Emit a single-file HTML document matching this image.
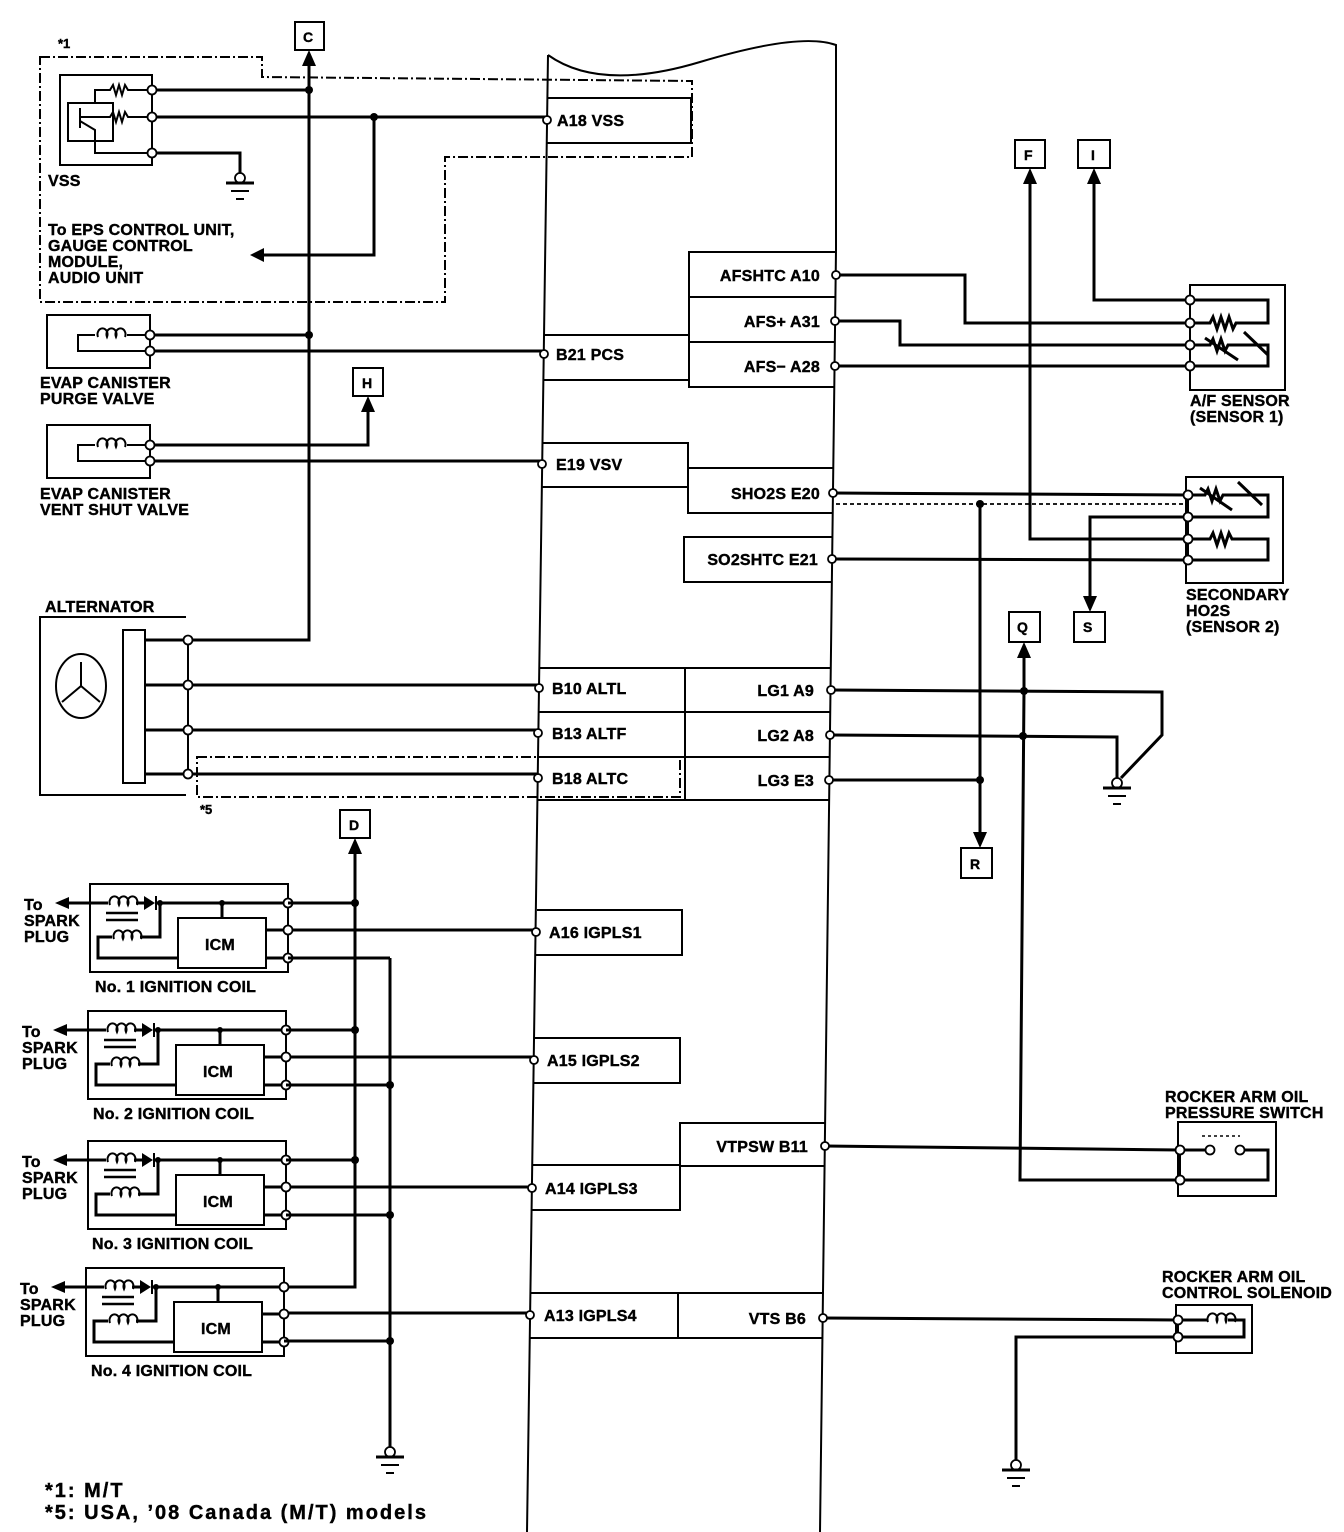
<!DOCTYPE html>
<html><head><meta charset="utf-8"><style>
html,body{margin:0;padding:0;background:#fff}
svg{display:block}
text{font-family:"Liberation Sans",Arial,sans-serif;font-weight:bold;font-size:16px;letter-spacing:0.2px;fill:#000;stroke:#000;stroke-width:0.4}
.s14{font-size:14px;letter-spacing:0}
.s13{font-size:13px;letter-spacing:0}
.fn{font-size:20px;letter-spacing:2px}
.w{stroke:#000;stroke-width:3;fill:none}
.t{stroke:#000;stroke-width:2;fill:none}
.d{stroke:#000;stroke-width:2;fill:none;stroke-dasharray:10 3 2 3}
.p{fill:#fff;stroke:#000;stroke-width:1.8}
.dot{fill:#000}
</style></head><body>
<svg width="1344" height="1532" viewBox="0 0 1344 1532" xmlns="http://www.w3.org/2000/svg">
<defs>
<g id="gnd"><circle cx="0" cy="0" r="5" class="p"/><line x1="-14" y1="5" x2="14" y2="5" stroke="#000" stroke-width="3"/><line x1="-9" y1="13" x2="9" y2="13" stroke="#000" stroke-width="2"/><line x1="-4" y1="21" x2="4" y2="21" stroke="#000" stroke-width="2"/></g>
<path id="coilsym" d="M0,0 a5,6 0 1 1 9,0 a5,6 0 1 1 9,0 a5,6 0 1 1 9,0" class="t" stroke-width="2.4"/>
</defs>

<!-- ECM outline -->
<path d="M548,55 Q600,92 700,62 T836,45 L836,250 L820,1532 M527,1532 L548,55" class="t"/>

<!-- *1 dashed region -->
<text x="58" y="48" class="s13">*1</text>
<path d="M40,57 L262,57 L262,77 L692,81 L692,157 L445,157 L445,302 L40,302 Z" class="d"/>

<!-- C connector -->
<rect x="295" y="22" width="29" height="28" class="t"/><text x="303" y="42" class="s14">C</text>
<polygon points="309,50 302,66 316,66" class="dot"/>
<path d="M309,62 L309,640 L188,640" class="w"/>

<!-- VSS -->
<rect x="60" y="75" width="92" height="90" class="t"/>
<line x1="152" y1="90" x2="152" y2="153" class="t"/>
<rect x="68" y="103" width="45" height="38" class="t"/>
<path d="M95,103 L95,90 L110,90 l3,-5 l3,10 l3,-10 l3,10 l3,-10 l3,5 L152,90" class="t" stroke-width="2.4"/>
<path d="M85,117 L110,117 l3,-5 l3,10 l3,-10 l3,10 l3,-10 l3,5 L152,117" class="t" stroke-width="2.4"/>
<path d="M80,108 L80,128 M80,117 L85,117 M80,121 L95,130 L95,153 L152,153" class="t" stroke-width="2.4"/>
<path d="M152,90 L309,90 M152,117 L547,117 M374,117 L374,255 L262,255" class="w"/>
<polygon points="250,255 264,248 264,262" class="dot"/>
<circle cx="309" cy="90" r="4" class="dot"/><circle cx="374" cy="117" r="4" class="dot"/>
<path d="M152,153 L240,153 L240,175" class="w"/>
<use href="#gnd" x="240" y="178"/>
<circle cx="152" cy="90" r="4.5" class="p"/><circle cx="152" cy="117" r="4.5" class="p"/><circle cx="152" cy="153" r="4.5" class="p"/>
<text x="48" y="186">VSS</text>
<text x="48" y="235">To EPS CONTROL UNIT,</text>
<text x="48" y="251">GAUGE CONTROL</text>
<text x="48" y="267">MODULE,</text>
<text x="48" y="283">AUDIO UNIT</text>

<!-- A18 box -->
<path d="M548,98 L691,98 L691,143 L547,143" class="t"/>
<circle cx="547" cy="120" r="4" class="p"/><text x="557" y="126">A18 VSS</text>

<!-- EVAP purge -->
<rect x="47" y="315" width="103" height="53" class="t"/>
<path d="M150,335 L127,335 M95,335 L78,335 L78,351 L150,351" class="t" stroke-width="2.8"/>
<use href="#coilsym" x="98" y="337"/>
<path d="M150,335 L309,335 M150,351 L544,351" class="w"/>
<circle cx="309" cy="335" r="4" class="dot"/>
<circle cx="150" cy="335" r="4.5" class="p"/><circle cx="150" cy="351" r="4.5" class="p"/>
<text x="40" y="388">EVAP CANISTER</text><text x="40" y="404">PURGE VALVE</text>
<path d="M544,335 L688,335 M543,380 L688,380" class="t"/>
<circle cx="544" cy="354" r="4" class="p"/><text x="556" y="360">B21 PCS</text>

<!-- H -->
<rect x="353" y="368" width="30" height="28" class="t"/><text x="362" y="388" class="s14">H</text>
<polygon points="368,396 361,412 375,412" class="dot"/>
<path d="M150,445 L368,445 L368,408" class="w"/>

<!-- EVAP vent -->
<rect x="47" y="425" width="103" height="53" class="t"/>
<path d="M150,445 L127,445 M95,445 L78,445 L78,461 L150,461" class="t" stroke-width="2.8"/>
<use href="#coilsym" x="98" y="447"/>
<path d="M150,461 L542,461" class="w"/>
<circle cx="150" cy="445" r="4.5" class="p"/><circle cx="150" cy="461" r="4.5" class="p"/>
<text x="40" y="499">EVAP CANISTER</text><text x="40" y="515">VENT SHUT VALVE</text>
<path d="M542,443 L688,443 L688,487 L541,487" class="t"/>
<circle cx="542" cy="464" r="4" class="p"/><text x="556" y="470">E19 VSV</text>

<!-- right AFS boxes -->
<path d="M836,252 L689,252 L689,387 L835,387 M689,297 L836,297 M689,342 L835,342" class="t"/>
<text x="820" y="281" text-anchor="end">AFSHTC A10</text>
<text x="820" y="327" text-anchor="end">AFS+ A31</text>
<text x="820" y="372" text-anchor="end">AFS− A28</text>
<path d="M836,275 L965,275 L965,323 L1190,323 M835,321 L900,321 L900,345 L1190,345 M835,366 L1190,366" class="w"/>
<circle cx="836" cy="275" r="4" class="p"/><circle cx="835" cy="321" r="4" class="p"/><circle cx="835" cy="366" r="4" class="p"/>

<!-- F, I -->
<rect x="1015" y="140" width="30" height="28" class="t"/><text x="1024" y="160" class="s14">F</text>
<rect x="1078" y="140" width="32" height="28" class="t"/><text x="1091" y="160" class="s14">I</text>
<polygon points="1030,168 1023,184 1037,184" class="dot"/>
<polygon points="1094,168 1087,184 1101,184" class="dot"/>
<path d="M1030,180 L1030,539 L1188,539 M1094,180 L1094,300 L1190,300" class="w"/>

<!-- A/F sensor -->
<path d="M1190,285 L1285,285 L1285,390 L1190,390 Z" class="t"/>
<line x1="1190" y1="300" x2="1190" y2="368" class="t"/>
<path d="M1190,300 L1268,300 L1268,323 L1248,323 M1190,323 L1210,323 l3,-6 l4,12 l4,-12 l4,12 l4,-12 l4,12 l3,-6 L1248,323" class="w" stroke-width="2.5"/>
<path d="M1190,345 L1210,345 l3,-6 l4,12 l4,-12 l4,12 l3,-6 L1268,345 L1268,366 L1190,366 M1205,338 L1238,360 M1244,332 L1268,355" class="w" stroke-width="2.2"/>
<circle cx="1190" cy="300" r="4.5" class="p"/><circle cx="1190" cy="323" r="4.5" class="p"/><circle cx="1190" cy="345" r="4.5" class="p"/><circle cx="1190" cy="366" r="4.5" class="p"/>
<text x="1190" y="406">A/F SENSOR</text><text x="1190" y="422">(SENSOR 1)</text>

<!-- SHO2S / SO2SHTC -->
<path d="M834,468 L688,468 L688,513 L833,513" class="t"/>
<text x="820" y="499" text-anchor="end">SHO2S E20</text>
<path d="M833,537 L684,537 L684,582 L832,582" class="t"/>
<text x="818" y="565" text-anchor="end">SO2SHTC E21</text>
<path d="M833,493 L1188,495 M832,559 L1188,560" class="w"/>
<line x1="836" y1="504" x2="1188" y2="504" stroke="#000" stroke-width="1.8" stroke-dasharray="4 3"/>
<circle cx="833" cy="493" r="4" class="p"/><circle cx="832" cy="559" r="4" class="p"/>
<circle cx="980" cy="504" r="4" class="dot"/>
<path d="M980,504 L980,835" class="w"/>
<polygon points="980,848 973,832 987,832" class="dot"/>
<rect x="961" y="848" width="31" height="30" class="t"/><text x="970" y="869" class="s14">R</text>

<!-- secondary HO2S -->
<path d="M1186,477 L1283,477 L1283,583 L1186,583 Z" class="t"/>
<line x1="1188" y1="495" x2="1188" y2="560" class="t"/>
<path d="M1188,495 L1205,495 l3,-6 l4,12 l4,-12 l4,12 l3,-6 L1268,495 L1268,517 L1188,517 M1200,488 L1232,510 M1238,482 L1262,505" class="w" stroke-width="2.2"/>
<path d="M1188,539 L1210,539 l3,-6 l4,12 l4,-12 l4,12 l4,-12 l3,6 L1268,539 L1268,560 L1188,560" class="w" stroke-width="2.5"/>
<path d="M1188,517 L1090,517 L1090,598" class="w"/>
<polygon points="1090,612 1083,596 1097,596" class="dot"/>
<circle cx="1188" cy="495" r="4.5" class="p"/><circle cx="1188" cy="517" r="4.5" class="p"/><circle cx="1188" cy="539" r="4.5" class="p"/><circle cx="1188" cy="560" r="4.5" class="p"/>
<text x="1186" y="600">SECONDARY</text><text x="1186" y="616">HO2S</text><text x="1186" y="632">(SENSOR 2)</text>
<rect x="1009" y="612" width="31" height="30" class="t"/><text x="1017" y="632" class="s14">Q</text>
<rect x="1074" y="612" width="31" height="30" class="t"/><text x="1083" y="632" class="s14">S</text>

<!-- Alternator -->
<text x="45" y="612">ALTERNATOR</text>
<path d="M186,617 L40,617 L40,795 L186,795" class="t"/>
<line x1="188" y1="640" x2="188" y2="774" class="t"/>
<rect x="123" y="630" width="22" height="153" class="t"/>
<ellipse cx="81" cy="686" rx="25" ry="32" class="t"/>
<path d="M81,662 L81,686 L62,702 M81,686 L100,702" class="t"/>
<path d="M145,640 L188,640 M145,685 L539,685 M145,730 L538,730 M145,774 L538,774" class="w"/>
<circle cx="188" cy="640" r="4.5" class="p"/><circle cx="188" cy="685" r="4.5" class="p"/><circle cx="188" cy="730" r="4.5" class="p"/><circle cx="188" cy="774" r="4.5" class="p"/>
<rect x="197" y="757" width="483" height="40" class="d"/>
<text x="200" y="814" class="s13">*5</text>
<path d="M540,668 L830,668 M539,712 L830,712 M538,757 L829,757 M538,800 L829,800 M685,668 L685,800" class="t"/>
<circle cx="539" cy="688" r="4" class="p"/><circle cx="538" cy="733" r="4" class="p"/><circle cx="538" cy="778" r="4" class="p"/>
<text x="552" y="694">B10 ALTL</text><text x="552" y="739">B13 ALTF</text><text x="552" y="784">B18 ALTC</text>
<text x="814" y="696" text-anchor="end">LG1 A9</text><text x="814" y="741" text-anchor="end">LG2 A8</text><text x="814" y="786" text-anchor="end">LG3 E3</text>
<path d="M831,690 L1162,692 L1162,735 L1121,778 M830,735 L1117,737 L1117,778 M829,780 L980,780" class="w"/>
<circle cx="831" cy="690" r="4" class="p"/><circle cx="830" cy="735" r="4" class="p"/><circle cx="829" cy="780" r="4" class="p"/>
<circle cx="980" cy="780" r="4" class="dot"/>
<use href="#gnd" x="1117" y="783"/>
<!-- Q line -->
<polygon points="1024,642 1017,658 1031,658" class="dot"/>
<path d="M1024,654 L1024,690 L1020,1180 L1180,1180" class="w"/>
<circle cx="1024" cy="691" r="4" class="dot"/><circle cx="1023" cy="736" r="4" class="dot"/>

<!-- D -->
<rect x="340" y="810" width="30" height="28" class="t"/><text x="349" y="830" class="s14">D</text>
<polygon points="355,838 348,854 362,854" class="dot"/>
<path d="M355,850 L355,1287 L284,1287" class="w"/>
<path d="M390,958 L390,1447" class="w"/>
<use href="#gnd" x="390" y="1452"/>

<!-- coils -->
<g id="coil1">
<rect x="90" y="884" width="198" height="88" class="t"/>
<line x1="288" y1="903" x2="288" y2="958" class="t"/>
<polygon points="55,903 69,897 69,909" class="dot"/>
<path d="M65,903 L108,903 M136,903 L144,903 M155,903 L288,903 M160,903 L160,937 L140,937 M112,937 L98,937 L98,958 L178,958 M222,903 L222,918 M266,930 L288,930 M266,958 L288,958" class="w"/>
<use href="#coilsym" x="110" y="905"/>
<use href="#coilsym" x="114" y="939"/>
<polygon points="144,896 144,910 155,903" class="dot"/><line x1="156" y1="896" x2="156" y2="910" stroke="#000" stroke-width="2"/>
<circle cx="160" cy="903" r="3" class="dot"/><circle cx="222" cy="903" r="3" class="dot"/>
<path d="M106,913 L138,913 M106,920 L138,920" stroke="#000" stroke-width="2.5"/>
<rect x="178" y="918" width="88" height="50" class="t"/>
<text x="205" y="950">ICM</text>
<circle cx="288" cy="903" r="4.5" class="p"/><circle cx="288" cy="930" r="4.5" class="p"/><circle cx="288" cy="958" r="4.5" class="p"/>
<text x="24" y="910">To</text><text x="24" y="926">SPARK</text><text x="24" y="942">PLUG</text>
</g>
<text x="95" y="992">No. 1 IGNITION COIL</text>
<use href="#coil1" x="-2" y="127"/>
<text x="93" y="1119">No. 2 IGNITION COIL</text>
<use href="#coil1" x="-2" y="257"/>
<text x="92" y="1249">No. 3 IGNITION COIL</text>
<use href="#coil1" x="-4" y="384"/>
<text x="91" y="1376">No. 4 IGNITION COIL</text>

<path d="M288,903 L355,903 M292,930 L536,930 M288,958 L390,958
M286,1030 L355,1030 M290,1057 L534,1057 M286,1085 L390,1085
M286,1160 L355,1160 M290,1187 L532,1187 M286,1215 L390,1215
M288,1313 L530,1313 M284,1341 L390,1341" class="w"/>
<circle cx="355" cy="903" r="4" class="dot"/><circle cx="355" cy="1030" r="4" class="dot"/><circle cx="355" cy="1160" r="4" class="dot"/>
<circle cx="390" cy="1085" r="4" class="dot"/><circle cx="390" cy="1215" r="4" class="dot"/><circle cx="390" cy="1341" r="4" class="dot"/>

<!-- IGPLS boxes -->
<path d="M537,910 L682,910 L682,955 L536,955" class="t"/>
<circle cx="536" cy="932" r="4" class="p"/><text x="549" y="938">A16 IGPLS1</text>
<path d="M535,1038 L680,1038 L680,1083 L534,1083" class="t"/>
<circle cx="534" cy="1060" r="4" class="p"/><text x="547" y="1066">A15 IGPLS2</text>
<path d="M533,1165 L680,1165 L680,1210 L532,1210 M680,1165 L680,1123 L826,1123 M680,1166 L825,1166" class="t"/>
<circle cx="532" cy="1188" r="4" class="p"/><text x="545" y="1194">A14 IGPLS3</text>
<text x="808" y="1152" text-anchor="end">VTPSW B11</text>
<path d="M531,1293 L824,1293 M530,1338 L823,1338 M678,1293 L678,1338" class="t"/>
<circle cx="530" cy="1315" r="4" class="p"/><text x="544" y="1321">A13 IGPLS4</text>
<text x="806" y="1324" text-anchor="end">VTS B6</text>

<!-- pressure switch -->
<path d="M825,1146 L1180,1150 M823,1318 L1178,1320" class="w"/>
<circle cx="825" cy="1146" r="4" class="p"/><circle cx="823" cy="1318" r="4" class="p"/>
<text x="1165" y="1102">ROCKER ARM OIL</text><text x="1165" y="1118">PRESSURE SWITCH</text>
<rect x="1178" y="1122" width="98" height="74" class="t"/>
<line x1="1180" y1="1150" x2="1180" y2="1180" class="t"/>
<path d="M1180,1150 L1206,1150 M1244,1150 L1268,1150 L1268,1180 L1180,1180" class="w" stroke-width="2.5"/>
<line x1="1202" y1="1136" x2="1240" y2="1136" stroke="#000" stroke-width="1.5" stroke-dasharray="3 3"/>
<circle cx="1210" cy="1150" r="4.5" class="p"/><circle cx="1240" cy="1150" r="4.5" class="p"/>
<circle cx="1180" cy="1150" r="4.5" class="p"/><circle cx="1180" cy="1180" r="4.5" class="p"/>

<!-- solenoid -->
<text x="1162" y="1282">ROCKER ARM OIL</text><text x="1162" y="1298">CONTROL SOLENOID</text>
<rect x="1176" y="1305" width="76" height="48" class="t"/>
<line x1="1178" y1="1320" x2="1178" y2="1337" class="t"/>
<path d="M1178,1320 L1208,1320 M1228,1320 L1244,1320 L1244,1337 L1178,1337" class="w" stroke-width="2.5"/>
<use href="#coilsym" x="1208" y="1322"/>
<path d="M1178,1337 L1016,1337 L1016,1460" class="w"/>
<circle cx="1178" cy="1320" r="4.5" class="p"/><circle cx="1178" cy="1337" r="4.5" class="p"/>
<use href="#gnd" x="1016" y="1465"/>

<!-- footnotes -->
<text x="45" y="1497" class="fn">*1: M/T</text>
<text x="45" y="1519" class="fn">*5: USA, ’08 Canada (M/T) models</text>
</svg>
</body></html>
